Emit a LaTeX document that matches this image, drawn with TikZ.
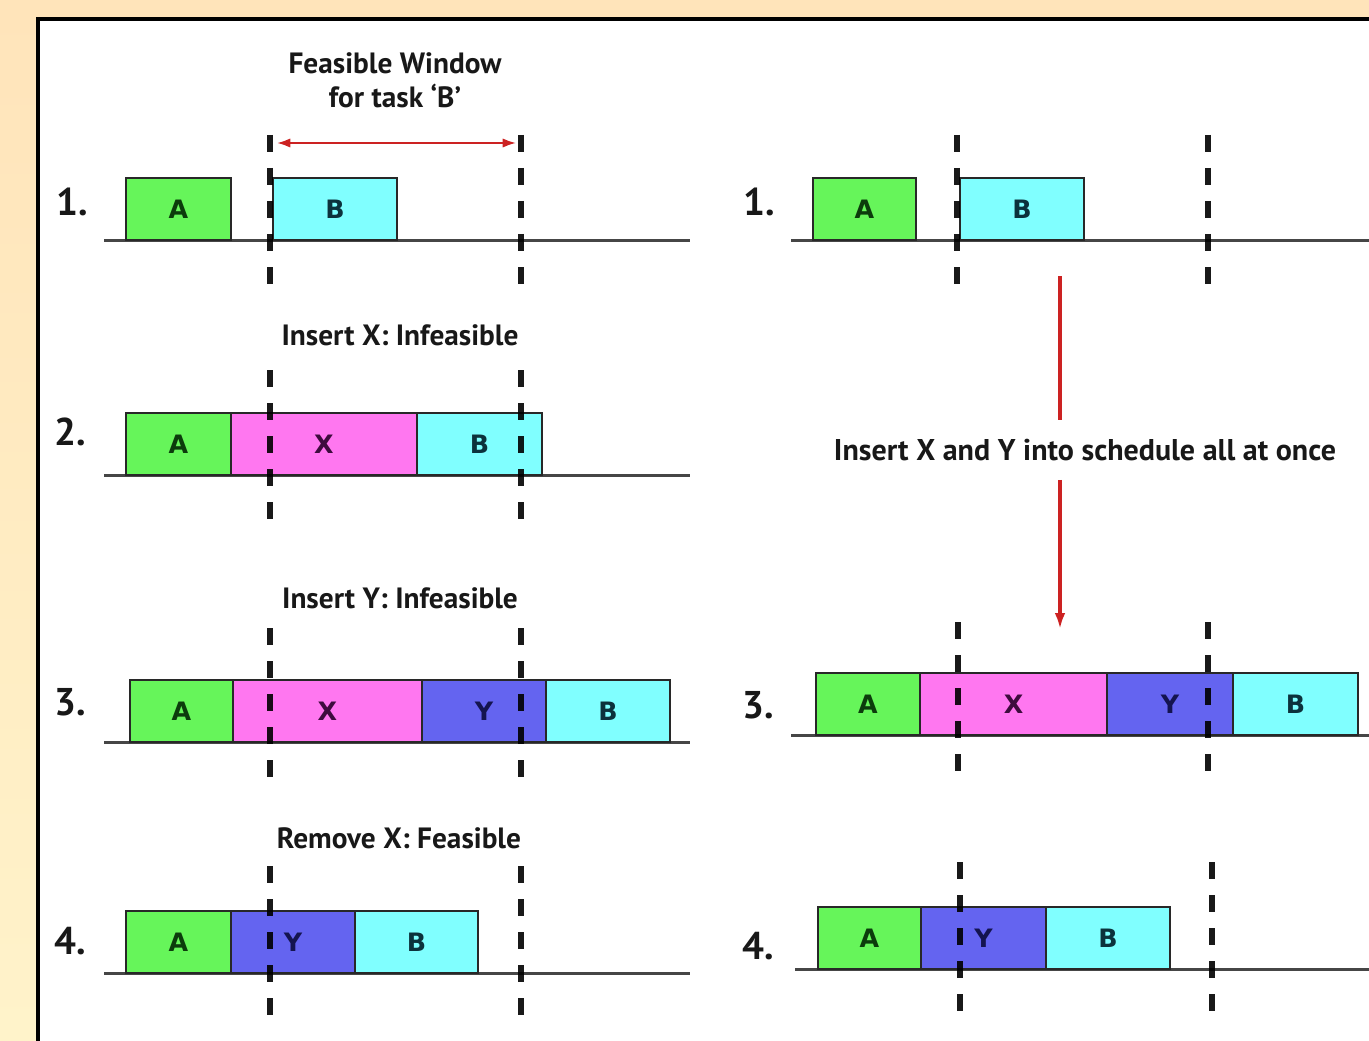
\documentclass[tikz,border=0pt]{standalone}
\usepackage{fontspec}
\setmainfont{PT Sans}
\newfontfamily\boxfont{DejaVu Sans}
\usetikzlibrary{arrows.meta}

\definecolor{bgtop}{RGB}{255,228,186}
\definecolor{bgbot}{RGB}{255,243,202}
\definecolor{cA}{RGB}{102,245,90}
\definecolor{cB}{RGB}{128,255,255}
\definecolor{cX}{RGB}{255,119,240}
\definecolor{cY}{RGB}{100,100,240}
\definecolor{tA}{RGB}{12,60,12}
\definecolor{tB}{RGB}{12,50,60}
\definecolor{tX}{RGB}{62,12,62}
\definecolor{tY}{RGB}{20,20,80}
\definecolor{edge}{RGB}{40,40,40}
\definecolor{axis}{RGB}{70,70,70}
\definecolor{arrowred}{RGB}{204,34,34}
\definecolor{ink}{RGB}{24,24,24}

\begin{document}
\begin{tikzpicture}[x=0.75pt,y=-0.75pt,
  task/.style={draw=edge, line width=1.5pt, inner sep=0pt, outer sep=0pt,
    anchor=south west, minimum height=46.5pt,
    font=\boxfont\bfseries\fontsize{19}{19}\selectfont},
  bw/.style={minimum width=#1*0.75pt},
  taskA/.style={task, fill=cA, text=tA},
  taskB/.style={task, fill=cB, text=tB},
  taskX/.style={task, fill=cX, text=tX},
  taskY/.style={task, fill=cY, text=tY},
  axisline/.style={draw=axis, line width=2.25pt},
  window/.style={draw=black, opacity=0.9, line width=3.9pt,
    dash pattern=on 12.75pt off 12pt},
  heading/.style={text=ink, font=\bfseries\fontsize{22}{25.5}\selectfont, align=center},
  rownum/.style={text=ink, font=\bfseries\fontsize{29}{29}\selectfont},
  redline/.style={draw=arrowred, line width=1.5pt}
]
\useasboundingbox (0,0) rectangle (1369,1041);
\clip (0,0) rectangle (1369,1041);

% backdrop and framed panel
\shade[top color=bgtop, bottom color=bgbot] (0,0) rectangle (1369,1041);
\draw[line width=3pt, fill=white] (38,19.5) rectangle (1400,1080);

% ---------------- left column ----------------
% step 1
\node[heading] (fw) at (395,80) {Feasible Window\\for task ‘B’};
\node[rownum] (nL1) at (72,202) {1.};
\draw[axisline] (104,240) -- (690,240);
\node[taskA, bw=105] (L1a) at (126,240) {A};
\node[taskB, bw=124] (L1b) at (273,240) {B};
\draw[window] (270,135) -- (270,285);
\draw[window] (521,135) -- (521,285);
\coordinate (fwl) at (277,143);
\coordinate (fwr) at (516,143);
\draw[redline, {Latex[length=10pt,width=7pt]}-{Latex[length=10pt,width=7pt]}] (fwl) -- (fwr);

% step 2
\node[heading] (h2) at (400,335) {Insert X: Infeasible};
\node[rownum] (nL2) at (70,432) {2.};
\draw[axisline] (104,475) -- (690,475);
\node[taskA, bw=105] (L2a) at (126,475) {A};
\node[taskX, bw=186] (L2x) at (231,475) {X};
\node[taskB, bw=125] (L2b) at (417,475) {B};
\draw[window] (270,370) -- (270,520);
\draw[window] (521,370) -- (521,520);

% step 3
\node[heading] (h3) at (400,598) {Insert Y: Infeasible};
\node[rownum] (nL3) at (70,702) {3.};
\draw[axisline] (104,742) -- (690,742);
\node[taskA, bw=103] (L3a) at (130,742) {A};
\node[taskX, bw=189] (L3x) at (233,742) {X};
\node[taskY, bw=124] (L3y) at (422,742) {Y};
\node[taskB, bw=124] (L3b) at (546,742) {B};
\draw[window] (270,628) -- (270,778);
\draw[window] (521,628) -- (521,778);

% step 4
\node[heading] (h4) at (399,838) {Remove X: Feasible};
\node[rownum] (nL4) at (70,941) {4.};
\draw[axisline] (104,973) -- (690,973);
\node[taskA, bw=105] (L4a) at (126,973) {A};
\node[taskY, bw=124] (L4y) at (231,973) {Y};
\node[taskB, bw=123] (L4b) at (355,973) {B};
\draw[window] (270,866) -- (270,1016);
\draw[window] (521,866) -- (521,1016);

% ---------------- right column ----------------
% step 1
\node[rownum] (nR1) at (759,202) {1.};
\draw[axisline] (791,240) -- (1369,240);
\node[taskA, bw=103] (R1a) at (813,240) {A};
\node[taskB, bw=124] (R1b) at (960,240) {B};
\draw[window] (957,135) -- (957,285);
\draw[window] (1208,135) -- (1208,285);

% all-at-once insertion
\coordinate (vtop) at (1060,276);
\node[text=ink, font=\bfseries\fontsize{22.5}{22.5}\selectfont, inner xsep=2pt, inner ysep=14pt]
  (msg) at (1085,450) {Insert X and Y into schedule all at once};
\coordinate (vtip) at (1060,629);
\draw[redline, line width=2.4pt] (vtop) -- (vtop |- msg.north);
\draw[redline, line width=2.4pt, -{Latex[length=12pt,width=8pt]}] (vtop |- msg.south) -- (vtip);

% step 3
\node[rownum] (nR3) at (758,705) {3.};
\draw[axisline] (791,735) -- (1369,735);
\node[taskA, bw=104] (R3a) at (816,735) {A};
\node[taskX, bw=187] (R3x) at (920,735) {X};
\node[taskY, bw=126] (R3y) at (1107,735) {Y};
\node[taskB, bw=125] (R3b) at (1233,735) {B};
\draw[window] (958,622) -- (958,772);
\draw[window] (1208,622) -- (1208,772);

% step 4
\node[rownum] (nR4) at (758,946) {4.};
\draw[axisline] (795,969) -- (1369,969);
\node[taskA, bw=103] (R4a) at (818,969) {A};
\node[taskY, bw=125] (R4y) at (921,969) {Y};
\node[taskB, bw=124] (R4b) at (1046,969) {B};
\draw[window] (960,862) -- (960,1012);
\draw[window] (1212,862) -- (1212,1012);
\end{tikzpicture}
\end{document}
